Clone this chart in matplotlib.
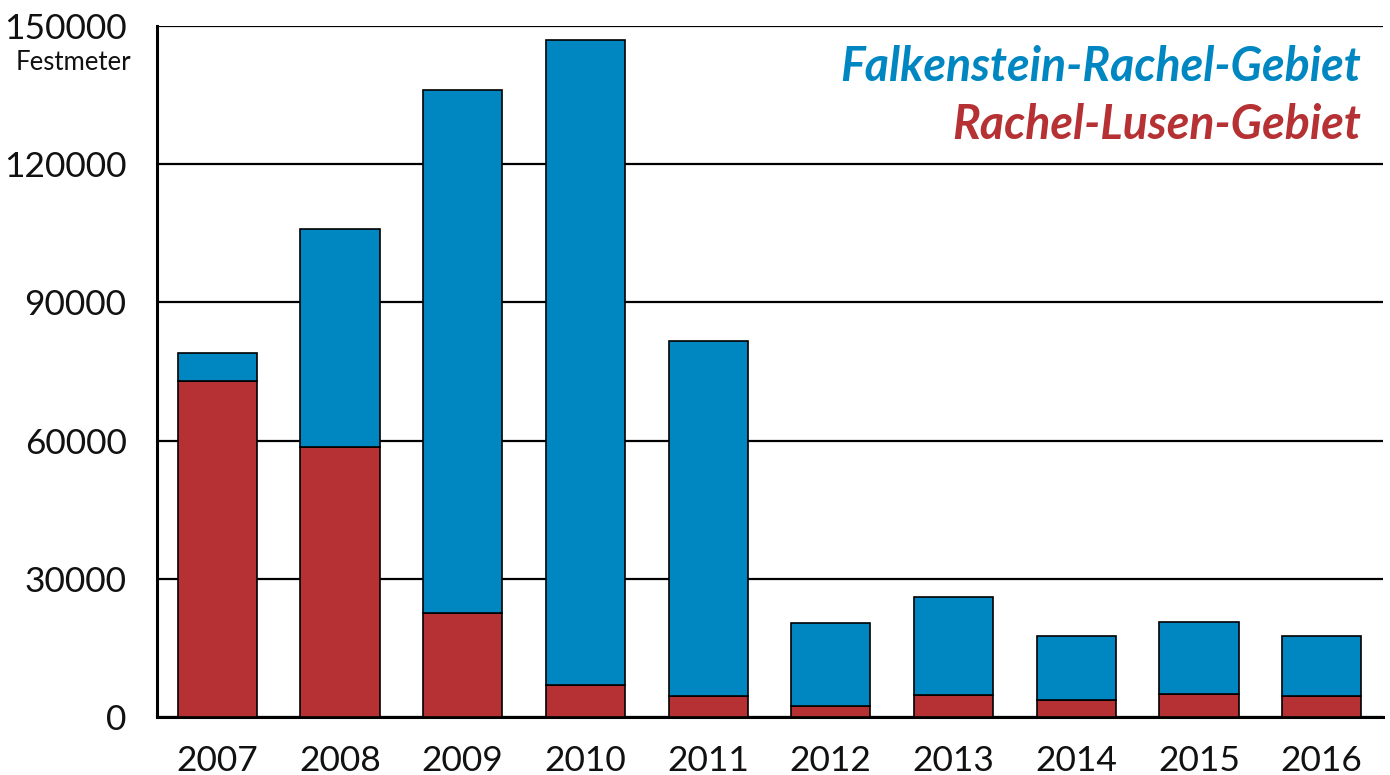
import matplotlib.pyplot as plt
import numpy as np

years = ['2007', '2008', '2009', '2010', '2011', '2012', '2013', '2014', '2015', '2016']
rachel_lusen = [73000, 58600, 22500, 7000, 4500, 2400, 4800, 3700, 5000, 4600]
totals = [79000, 106000, 136000, 147000, 81600, 20500, 26000, 17600, 20600, 17600]
falkenstein = [t - r for t, r in zip(totals, rachel_lusen)]

BLUE = '#0087C2'
RED = '#B53133'

plt.rcParams['font.family'] = ['Lato', 'DejaVu Sans']

fig = plt.figure(figsize=(13.9, 7.75), dpi=100)
ax = fig.add_axes([0.113, 0.0748, 0.882, 0.8917])

x = np.arange(len(years))
ax.bar(x, rachel_lusen, width=0.645, color=RED, edgecolor='black', linewidth=1.2, zorder=3)
ax.bar(x, falkenstein, bottom=rachel_lusen, width=0.645, color=BLUE,
       edgecolor='black', linewidth=1.2, zorder=3)

ax.set_xlim(-0.49, 9.5)
ax.set_ylim(0, 150000)
ax.set_yticks([0, 30000, 60000, 90000, 120000, 150000])
ax.set_yticklabels(['0', '30000', '60000', '90000', '120000', '150000'])
ax.set_xticks(x)
ax.set_xticklabels(years)
ax.tick_params(axis='both', length=0, labelsize=25.5, colors='#111111')
ax.tick_params(axis='y', pad=22)
ax.tick_params(axis='x', pad=20)

ax.yaxis.grid(True, color='black', linewidth=1.6, zorder=0)
ax.set_axisbelow(True)
for side in ['top', 'right']:
    ax.spines[side].set_visible(False)
for side in ['left', 'bottom']:
    ax.spines[side].set_linewidth(2.2)

fig.text(0.053, 0.92, 'Festmeter', fontsize=18.5, ha='center', va='center', color='#111111')

ax.text(0.982, 0.94, 'Falkenstein-Rachel-Gebiet', transform=ax.transAxes,
        ha='right', va='center', fontsize=33.5, fontweight='bold', fontstyle='italic', color=BLUE)
ax.text(0.982, 0.857, 'Rachel-Lusen-Gebiet', transform=ax.transAxes,
        ha='right', va='center', fontsize=33.5, fontweight='bold', fontstyle='italic', color=RED)

fig.savefig('out.png', dpi=100)
